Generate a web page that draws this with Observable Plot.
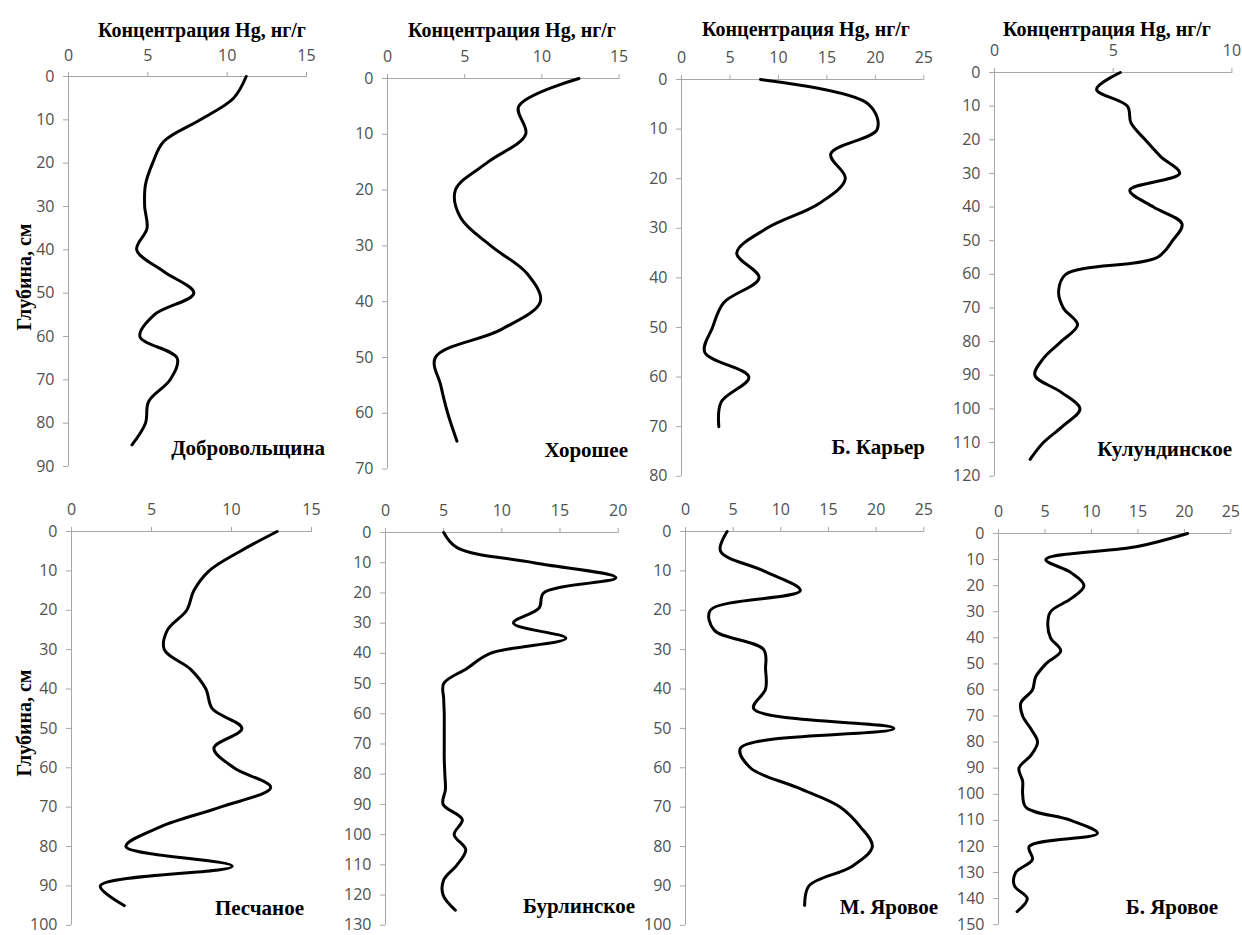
<!DOCTYPE html>
<html>
<head>
<meta charset="utf-8">
<script src="https://cdn.jsdelivr.net/npm/d3@7"></script>
<script src="https://cdn.jsdelivr.net/npm/@observablehq/plot@0.6"></script>
<style>
  html, body { margin: 0; padding: 0; background: #fff; }
  #root { position: relative; width: 1242px; height: 935px; overflow: hidden; background: #fff; }
  .ttl { position: absolute; font-family: "Liberation Serif", "Times New Roman", serif; font-weight: bold; color: #000; white-space: nowrap; line-height: 1; }
</style>
</head>
<body>
<div id="root"></div>
<script>
// ---- Data ----
const sites = ["Добровольщина", "Хорошее", "Б. Карьер", "Кулундинское", "Песчаное", "Бурлинское", "М. Яровое", "Б. Яровое"];
const xTitle = "Концентрация Hg, нг/г";
const yTitle = "Глубина, см";

const depthDobr = [0,5,10,15,20,25,30,35,40,45,50,55,60,65,70,75,80,85];
const concDobr  = [11.2,10.4,8.3,6.0,5.3,4.85,4.8,4.95,4.3,6.0,7.9,5.4,4.5,6.85,6.4,5.05,4.85,4.0];

const depthKhor = [0,5,10,15,20,25,30,35,40,45,50,55,60,65];
const concKhor  = [12.4,8.5,8.95,6.5,4.4,4.75,6.7,9.05,9.9,7.35,3.1,3.45,3.9,4.5];

const depthKar = [0,5,10,15,20,25,30,35,40,45,50,55,60,65,70];
const concKar  = [8.15,19.3,20.2,15.4,16.9,14.2,8.8,5.7,8.0,4.35,3.2,2.4,6.95,4.1,3.85];

const depthKul = [0,5,10,15,20,25,30,35,40,45,50,55,60,65,70,75,80,85,90,95,100,105,110,115];
const concKul  = [5.3,4.3,5.6,5.75,6.35,7.0,7.8,5.7,6.7,7.9,7.5,6.85,3.0,2.7,2.9,3.5,2.8,2.06,1.7,2.8,3.6,2.9,2.06,1.5];

const depthPesch = [0,5,10,15,20,25,30,35,40,45,50,55,60,65,70,75,80,85,90,95];
const concPesch  = [12.85,10.55,8.6,7.65,7.2,6.0,5.8,7.45,8.4,8.8,10.65,8.9,10.15,12.45,9.3,5.55,3.4,10.05,1.8,3.3];

const depthBurl = [0,5,10,15,20,25,30,35,40,45,50,55,60,65,70,75,80,85,90,95,100,105,110,115,120,125];
const concBurl  = [5.0,6.15,12.75,19.8,13.6,13.2,11.0,15.5,9.0,7.0,5.0,5.0,5.05,5.05,5.05,5.05,5.1,5.15,4.95,6.6,5.9,6.9,6.15,5.0,4.95,6.0];

const depthMYar = [0,5,10,15,20,25,30,35,40,45,50,55,60,65,70,75,80,85,90,95];
const concMYar  = [4.37,3.67,8.2,12.05,2.6,3.0,8.2,8.4,8.4,7.15,21.85,5.77,6.8,11.7,16.25,18.35,19.6,17.5,12.95,12.5];

const depthBYar = [0,5,10,15,20,25,30,35,40,45,50,55,60,65,70,75,80,85,90,95,100,105,110,115,120,125,130,135,140,145];
const concBYar  = [20.35,14.95,5.1,7.8,9.2,7.8,5.6,5.3,5.6,6.7,5.1,4.0,3.65,2.4,2.6,3.5,4.2,3.5,2.2,2.6,2.6,2.95,7.8,10.65,3.3,3.65,1.85,1.7,3.1,2.0];

const depths = [depthDobr, depthKhor, depthKar, depthKul, depthPesch, depthBurl, depthMYar, depthBYar];
const concs  = [concDobr, concKhor, concKar, concKul, concPesch, concBurl, concMYar, concBYar];

const xTicks = [[0,5,10,15],[0,5,10,15],[0,5,10,15,20,25],[0,5,10],[0,5,10,15],[0,5,10,15,20],[0,5,10,15,20,25],[0,5,10,15,20,25]];
const yTicks = [
  [0,10,20,30,40,50,60,70,80,90],
  [0,10,20,30,40,50,60,70],
  [0,10,20,30,40,50,60,70,80],
  [0,10,20,30,40,50,60,70,80,90,100,110,120],
  [0,10,20,30,40,50,60,70,80,90,100],
  [0,10,20,30,40,50,60,70,80,90,100,110,120,130],
  [0,10,20,30,40,50,60,70,80,90,100],
  [0,10,20,30,40,50,60,70,80,90,100,110,120,130,140,150]
];

// ---- Layout (page pixels) ----
const frames = [
  {x0: 68,    x1: 306,    y0: 76,    y1: 466},
  {x0: 386.7, x1: 618.3,  y0: 77.7,  y1: 468.3},
  {x0: 681,   x1: 923.3,  y0: 78.7,  y1: 475.5},
  {x0: 994.3, x1: 1231.7, y0: 72.3,  y1: 476},
  {x0: 71,    x1: 311,    y0: 530.7, y1: 924.5},
  {x0: 385,   x1: 617.7,  y0: 531.7, y1: 924.5},
  {x0: 685,   x1: 923.3,  y0: 530.7, y1: 924.5},
  {x0: 997.7, x1: 1230,   y0: 533.3, y1: 924.5}
];
const titlePos = [{cx: 202, base: 37}, {cx: 512, base: 37}, {cx: 806, base: 36}, {cx: 1107, base: 36}];
const labelPos = [
  {right: 325, base: 455}, {right: 628, base: 457}, {right: 925, base: 454}, {right: 1232, base: 456},
  {right: 304, base: 915}, {right: 635, base: 913}, {right: 938, base: 914}, {right: 1218, base: 914}
];
const yTitlePos = [{cx: 24, cy: 277}, {cx: 24, cy: 723}];

const root = document.getElementById("root");
const ML = 45, MT = 30, MR = 12, MB = 10;
const axisGray = "#a6a6a6", labelGray = "#505050";

frames.forEach((f, i) => {
  const data = depths[i].map((d, k) => ({depth: d, conc: concs[i][k]}));
  const xt = xTicks[i], yt = yTicks[i];
  const plot = Plot.plot({
    width: (f.x1 - f.x0) + ML + MR,
    height: (f.y1 - f.y0) + MT + MB,
    marginLeft: ML, marginRight: MR, marginTop: MT, marginBottom: MB,
    style: {fontFamily: "'Open Sans', sans-serif", fontSize: "16px", background: "transparent", overflow: "visible"},
    x: {domain: [0, xt[xt.length - 1]]},
    y: {domain: [0, yt[yt.length - 1]], reverse: true},
    marks: [
      Plot.ruleX([0], {stroke: axisGray, strokeWidth: 1}),
      Plot.ruleY([0], {stroke: axisGray, strokeWidth: 1}),
      Plot.axisX(xt, {anchor: "top", tickSize: 5, tickPadding: 11, stroke: axisGray, fill: labelGray, fontSize: 16, label: null, tickFormat: d => String(d)}),
      Plot.axisY(yt, {anchor: "left", tickSize: 5, tickPadding: 9, stroke: axisGray, fill: labelGray, fontSize: 16, label: null, tickFormat: d => String(d)}),
      Plot.line(data, {x: "conc", y: "depth", curve: "catmull-rom", stroke: "#000", strokeWidth: 3, strokeLinejoin: "round", strokeLinecap: "round"})
    ]
  });
  plot.style.position = "absolute";
  plot.style.left = (f.x0 - ML) + "px";
  plot.style.top = (f.y0 - MT) + "px";
  root.appendChild(plot);

  // site label
  const lp = labelPos[i];
  const lab = document.createElement("div");
  lab.className = "ttl";
  lab.style.fontSize = "21px";
  lab.textContent = sites[i];
  lab.style.right = (1242 - lp.right) + "px";
  lab.style.top = (lp.base - 17.5) + "px";
  root.appendChild(lab);
});

titlePos.forEach(t => {
  const el = document.createElement("div");
  el.className = "ttl";
  el.style.fontSize = "20px";
  el.textContent = xTitle;
  el.style.left = t.cx + "px";
  el.style.top = (t.base - 16.8) + "px";
  el.style.transform = "translateX(-50%)";
  root.appendChild(el);
});

yTitlePos.forEach(t => {
  const el = document.createElement("div");
  el.className = "ttl";
  el.style.fontSize = "20px";
  el.textContent = yTitle;
  el.style.left = t.cx + "px";
  el.style.top = t.cy + "px";
  el.style.transform = "translate(-50%, -50%) rotate(-90deg)";
  root.appendChild(el);
});
</script>
</body>
</html>
